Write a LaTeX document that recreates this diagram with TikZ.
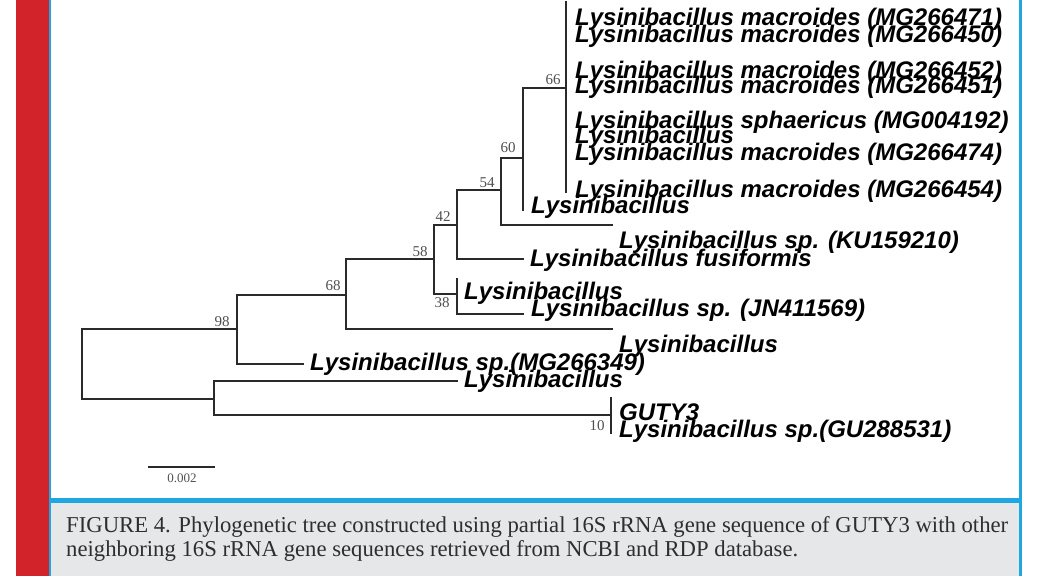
\documentclass[tikz,border=0pt]{standalone}
\usepackage{fontspec}
\usepackage{graphicx}
\setmainfont{Liberation Serif}
\newfontfamily\leaffont{Liberation Sans}
\newfontfamily\capfont{Liberation Serif}
\definecolor{redbar}{HTML}{D2232A}
\definecolor{frameblue}{HTML}{1EA7E1}
\definecolor{capgray}{HTML}{E6E7E8}
\definecolor{treeline}{HTML}{2A2A2A}
\definecolor{bootgray}{HTML}{505050}
\definecolor{captext}{HTML}{2E2E2E}
\newlength\capw
\newcommand\capone{FIGURE 4. Phylogenetic tree constructed using partial 16S rRNA gene sequence of GUTY3 with other}
\newcommand\captwo{neighboring 16S rRNA gene sequences retrieved from NCBI and RDP database.}
\newcommand\capline[1]{\capfont\fontsize{22.7}{26}\selectfont\settowidth\capw{\capone}\pgfmathsetmacro\capscale{942/\capw}\scalebox{\capscale}[1.0]{#1}}
\begin{document}
\begin{tikzpicture}[x=1pt,y=-1pt,
  branch/.style={draw=treeline,line width=1.4pt,line cap=rect},
  leaf/.style={anchor=base west,inner sep=0pt,font=\leaffont\bfseries\itshape\fontsize{24}{24}\selectfont,text=black},
  boot/.style={inner sep=0pt,font=\fontsize{15}{15}\selectfont,text=bootgray},
  caption/.style={anchor=base west,inner sep=0pt,text=captext}]
\useasboundingbox (0,0) rectangle (1038,576);
\fill[white] (0,0) rectangle (1038,576);
% frame
\fill[redbar] (16,0) rectangle (49,576);
\fill[frameblue] (49,0) rectangle (51,576);
\fill[capgray] (51,503) rectangle (1019,576);
\fill[frameblue] (49,498) rectangle (1022,503);
\fill[frameblue] (1019,0) rectangle (1022,576);
% internal nodes
\coordinate (root) at (82,364);
\coordinate (n98) at (237,329);
\coordinate (nB) at (214,399);
\coordinate (n68) at (346,295);
\coordinate (n58) at (434,259);
\coordinate (n42) at (457,225);
\coordinate (n38) at (457,294);
\coordinate (n54) at (501,190);
\coordinate (n60) at (523,158);
\coordinate (n66) at (566,88);
\coordinate (n10) at (611,415);
% tips
\coordinate (t66a) at (566,2);
\coordinate (t66b) at (566,192);
\coordinate (t60) at (523,210);
\coordinate (tKU) at (612,225);
\coordinate (tfus) at (523,259);
\coordinate (t38a) at (457,279);
\coordinate (t38b) at (523,314);
\coordinate (t68) at (612,329);
\coordinate (tMG) at (303,364);
\coordinate (tB) at (457,381);
\coordinate (t10a) at (611,398);
\coordinate (t10b) at (611,433);
% branches
\draw[branch] (root) |- (n98);
\draw[branch] (root) |- (nB);
\draw[branch] (n98) |- (n68);
\draw[branch] (n98) |- (tMG);
\draw[branch] (nB) |- (tB);
\draw[branch] (nB) |- (n10);
\draw[branch] (n10) -- (t10a);
\draw[branch] (n10) -- (t10b);
\draw[branch] (n68) |- (n58);
\draw[branch] (n68) |- (t68);
\draw[branch] (n58) |- (n42);
\draw[branch] (n58) |- (n38);
\draw[branch] (n38) -- (t38a);
\draw[branch] (n38) |- (t38b);
\draw[branch] (n42) |- (n54);
\draw[branch] (n42) |- (tfus);
\draw[branch] (n54) |- (n60);
\draw[branch] (n54) |- (tKU);
\draw[branch] (n60) |- (n66);
\draw[branch] (n60) -- (t60);
\draw[branch] (n66) -- (t66a);
\draw[branch] (n66) -- (t66b);
% bootstrap values
\node[boot] (b98) at (222,322) {98};
\node[boot] (b68) at (333,286) {68};
\node[boot] (b58) at (420,252) {58};
\node[boot] (b42) at (443,217) {42};
\node[boot] (b54) at (487,183) {54};
\node[boot] (b60) at (508,148) {60};
\node[boot] (b66) at (553,80) {66};
\node[boot] (b38) at (442,303) {38};
\node[boot] (b10) at (597,426) {10};
% leaf labels
\node[leaf] (l1) at (575,25) {Lysinibacillus macroides (MG266471)};
\node[leaf] (l2) at (575,42) {Lysinibacillus macroides (MG266450)};
\node[leaf] (l3) at (575,78) {Lysinibacillus macroides (MG266452)};
\node[leaf] (l4) at (575,93) {Lysinibacillus macroides (MG266451)};
\node[leaf] (l5) at (575,128) {Lysinibacillus sphaericus (MG004192)};
\node[leaf] (l6) at (575,143) {Lysinibacillus};
\node[leaf] (l7) at (575,160) {Lysinibacillus macroides (MG266474)};
\node[leaf] (l8) at (575,197) {Lysinibacillus macroides (MG266454)};
\node[leaf] (l9) at (531,213) {Lysinibacillus};
\node[leaf] (l10) at (619,248) {Lysinibacillus sp. (KU159210)};
\node[leaf] (l11) at (530,266) {Lysinibacillus fusiformis};
\node[leaf] (l12) at (464,299) {Lysinibacillus};
\node[leaf] (l13) at (531,316) {Lysinibacillus sp. (JN411569)};
\node[leaf] (l14) at (619,352) {Lysinibacillus};
\node[leaf] (l15) at (310,370) {Lysinibacillus sp.(MG266349)};
\node[leaf] (l16) at (464,387) {Lysinibacillus};
\node[leaf] (l17) at (619,420) {GUTY3};
\node[leaf] (l18) at (619,437) {Lysinibacillus sp.(GU288531)};
% scale bar
\coordinate (sb1) at (148,467);
\coordinate (sb2) at (215,467);
\draw[branch,line cap=butt] (sb1) -- (sb2);
\node[boot,font=\fontsize{13}{13}\selectfont] (sbl) at (182,478) {0.002};
% caption
\node[caption] (cap1) at (66,532) {\capline{\capone}};
\node[caption] (cap2) at (66,556) {\capline{\captwo}};
\end{tikzpicture}
\end{document}
